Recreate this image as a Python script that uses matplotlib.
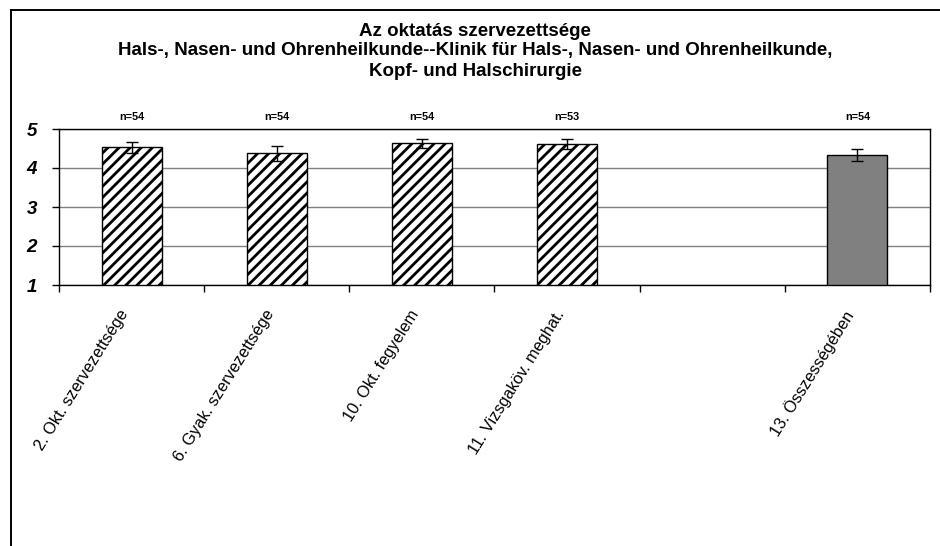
import matplotlib
matplotlib.use("Agg")
import matplotlib.pyplot as plt
from matplotlib.lines import Line2D
import numpy as np

categories = ["2. Okt. szervezettsége", "6. Gyak. szervezettsége", "10. Okt. fegyelem",
              "11. Vizsgaköv. meghat.", "", "13. Összességében"]
values = [4.53, 4.38, 4.63, 4.62, np.nan, 4.33]
errors = [0.14, 0.19, 0.12, 0.12, np.nan, 0.15]
n_labels = ["n=54", "n=54", "n=54", "n=53", "", "n=54"]
hatched = [True, True, True, True, False, False]
yticks = [1, 2, 3, 4, 5]
title_lines = ["Az oktatás szervezettsége",
               "Hals-, Nasen- und Ohrenheilkunde--Klinik für Hals-, Nasen- und Ohrenheilkunde,",
               "Kopf- und Halschirurgie"]

plt.rcParams['font.family'] = ['Liberation Sans', 'DejaVu Sans']
plt.rcParams['hatch.linewidth'] = 2.0
plt.rcParams['hatch.color'] = 'black'

W, H = 940, 546
fig = plt.figure(figsize=(W / 100, H / 100), dpi=100)
ax = fig.add_axes([59 / W, 1 - 285 / H, (930 - 59) / W, (285 - 129) / H])

x = np.arange(len(categories))
for i in range(len(categories)):
    if np.isnan(values[i]):
        continue
    if hatched[i]:
        ax.bar(x[i], values[i] - 1, bottom=1, width=0.413, facecolor='white',
               edgecolor='black', hatch='///', linewidth=1.0, zorder=3)
    else:
        ax.bar(x[i], values[i] - 1, bottom=1, width=0.413, facecolor='#808080',
               edgecolor='black', linewidth=1.0, zorder=3)
    ax.errorbar(x[i], values[i], yerr=errors[i], fmt='none', ecolor='black',
                elinewidth=1.0, capsize=4.5, capthick=1.0, zorder=4)
    ax.text(x[i], 5.31, n_labels[i], ha='center', va='center', fontsize=7.8,
            fontweight='bold', clip_on=False)

ax.set_xlim(-0.5, len(categories) - 0.5)
ax.set_ylim(1, 5)
ax.set_yticks(yticks)
ax.set_yticklabels([str(t) for t in yticks], fontsize=13.5, fontweight='bold', style='italic')
ax.tick_params(axis='y', length=5, width=1, pad=11, direction='out')

ax.set_xticks(x)
ax.set_xticklabels(categories, rotation=58, ha='right', va='top', fontsize=11.8,
                   rotation_mode='default')
ax.tick_params(axis='x', which='major', length=0, pad=16)
ax.set_xticks(np.arange(-0.5, len(categories), 1.0), minor=True)
ax.tick_params(axis='x', which='minor', length=5, width=1, direction='out')

ax.yaxis.grid(True, color='#808080', linewidth=1.0, zorder=0)
ax.set_axisbelow(True)
for s in ax.spines.values():
    s.set_color('black')
    s.set_linewidth(1.0)

ys = [31, 51, 71]
for line, yy in zip(title_lines, ys):
    fig.text(475 / W, 1 - yy / H, line, ha='center', va='center', fontsize=13.5,
             fontweight='bold')

fig.add_artist(Line2D([11 / W, 11 / W], [1 - 10 / H, 0], transform=fig.transFigure,
                      color='black', linewidth=1.4))
fig.add_artist(Line2D([11 / W, 1], [1 - 10 / H, 1 - 10 / H], transform=fig.transFigure,
                      color='black', linewidth=1.4))

fig.savefig("out.png", dpi=100)
